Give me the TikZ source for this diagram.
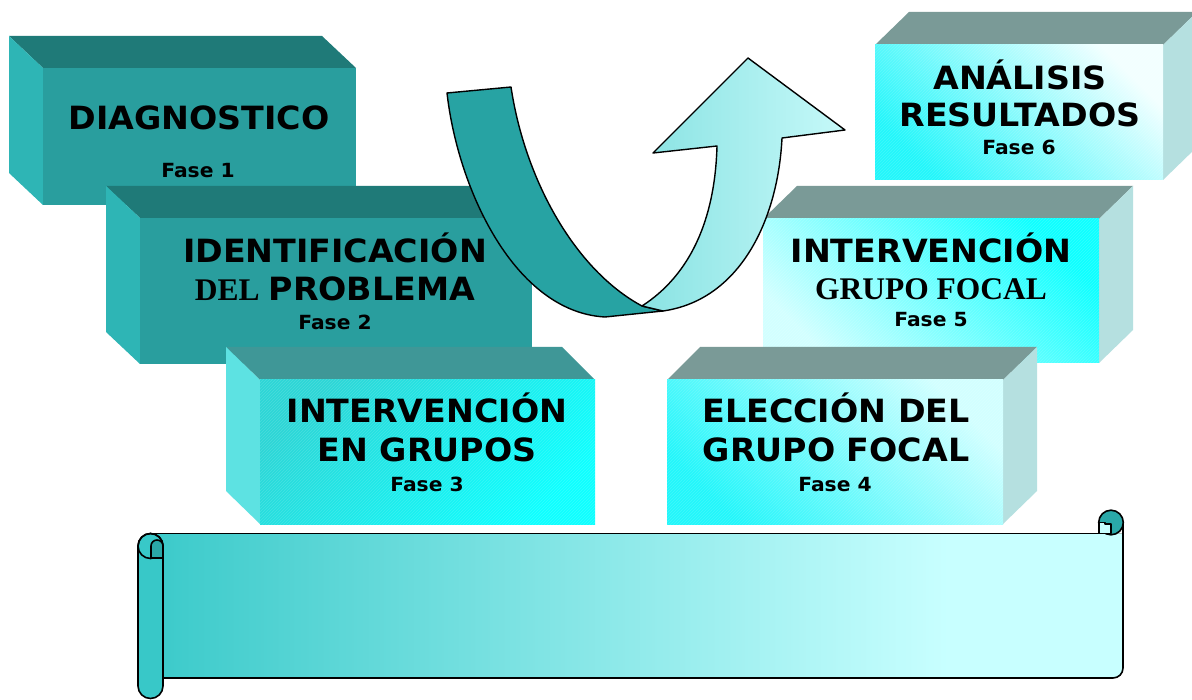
\documentclass[tikz,border=0pt]{standalone}
\usepackage{fontspec}
\newfontfamily\vb{DejaVu Sans}[FakeStretch=1.04]
\newfontfamily\tb{Liberation Serif}
\usetikzlibrary{patterns}
\definecolor{dkF}{HTML}{299E9E}
\definecolor{dkT}{HTML}{1F7A78}
\definecolor{dkS}{HTML}{2EB5B5}
\definecolor{mdT}{HTML}{3F9797}
\definecolor{mdS}{HTML}{5DE2E2}
\definecolor{gyT}{HTML}{7A9A97}
\definecolor{gyS}{HTML}{B5E0E0}
\definecolor{cyA}{HTML}{2CD6D6}
\definecolor{cyB}{HTML}{0EFFFF}
\definecolor{cyC}{HTML}{22F6FA}
\definecolor{ltA}{HTML}{D2FFFF}
\definecolor{ltW}{HTML}{F2FFFF}
\definecolor{arD}{HTML}{27A3A3}
\definecolor{arL}{HTML}{8AE3E3}
\definecolor{arR}{HTML}{C6F9F9}
\definecolor{scA}{HTML}{3BCACA}
\definecolor{scB}{HTML}{C8FFFF}
\definecolor{rollc}{HTML}{38C8C8}
\definecolor{curlc}{HTML}{2AA8A8}
\pgfdeclarehorizontalshading{scrollsh}{100bp}{color(0bp)=(scA); color(25bp)=(scA); color(66bp)=(scB); color(100bp)=(scB)}
\tikzset{
  ttl/.style={font=\vb\bfseries\fontsize{32}{36}\selectfont, anchor=base, inner sep=0pt},
  fase/.style={font=\vb\bfseries\fontsize{19.5}{22}\selectfont, anchor=base, inner sep=0pt},
  ser/.style={font=\tb\bfseries\fontsize{31.5}{36}\selectfont, anchor=base, inner sep=0pt},
  hatch/.style={pattern=north east lines, pattern color=white, opacity=0.15},
  outl/.style={draw=black, line width=1.6pt, line join=round}
}
\begin{document}
\begin{tikzpicture}[x=1pt,y=-1pt]
\useasboundingbox (0,0) rectangle (1192,700);
\clip (0,0) rectangle (1192,700);
\fill[white] (0,0) rectangle (1192,700);

% Box 1
\fill[dkT] (43,68) -- (356,68) -- (322,36) -- (9,36) -- cycle;
\fill[dkS] (43,68) -- (9,36) -- (9,173) -- (43,205) -- cycle;
\fill[dkF] (43,68) rectangle (356,205);
\node[ttl] (t1) at (199,130) {DIAGNOSTICO};
\node[fase] (f1) at (198,178) {Fase 1};

% Box 2
\fill[dkT] (140,218) -- (532,218) -- (498,186) -- (106,186) -- cycle;
\fill[dkS] (140,218) -- (106,186) -- (106,332) -- (140,364) -- cycle;
\fill[dkF] (140,218) rectangle (532,364);
\node[ttl] (t2) at (335,263) {IDENTIFICACIÓN};
\node[anchor=base, inner sep=0pt] (t2b) at (335,301) {{\tb\bfseries\fontsize{31.5}{36}\selectfont DEL}\hspace{9pt}{\vb\bfseries\fontsize{32}{36}\selectfont PROBLEMA}};
\node[fase] (f2) at (335,330) {Fase 2};

% Box 3
\fill[mdT] (260,380) -- (595,380) -- (562,347) -- (226,347) -- cycle;
\fill[mdS] (260,380) -- (226,347) -- (226,491) -- (260,524) -- cycle;
\fill[top color=cyA, bottom color=cyB, shading angle=45] (260,380) rectangle (595,524);
\fill[hatch] (260,380) rectangle (595,524);
\node[ttl] (t3) at (427,423) {INTERVENCIÓN};
\node[ttl] (t3b) at (427,461.5) {EN GRUPOS};
\node[fase] (f3) at (427,491.5) {Fase 3};

% Box 6
\fill[gyT] (875,45) -- (1163,45) -- (1197,12) -- (909,12) -- cycle;
\fill[gyS] (1163,45) -- (1197,12) -- (1197,147) -- (1163,180) -- cycle;
\fill[top color=ltW, bottom color=cyC, shading angle=-45] (875,45) rectangle (1163,180);
\fill[hatch] (875,45) rectangle (1163,180);
\node[ttl] (t6) at (1020,90) {ANÁLISIS};
\node[ttl] (t6b) at (1020,126.7) {RESULTADOS};
\node[fase] (f6) at (1019,155) {Fase 6};

% Box 5
\fill[gyT] (763,219) -- (1099,219) -- (1133,186) -- (797,186) -- cycle;
\fill[gyS] (1099,219) -- (1133,186) -- (1133,330) -- (1099,363) -- cycle;
\fill[top color=cyB, bottom color=ltA, shading angle=-45] (763,219) rectangle (1099,363);
\fill[hatch] (763,219) rectangle (1099,363);
\node[ttl] (t5) at (931,262.7) {INTERVENCIÓN};
\node[ser] (t5b) at (931,299.3) {GRUPO FOCAL};
\node[fase] (f5) at (931,326.7) {Fase 5};

% Box 4
\fill[gyT] (667,380) -- (1003,380) -- (1037,347) -- (700,347) -- cycle;
\fill[gyS] (1003,380) -- (1037,347) -- (1037,491) -- (1003,524) -- cycle;
\fill[top color=ltA, bottom color=cyC, shading angle=-45] (667,380) rectangle (1003,524);
\fill[hatch] (667,380) rectangle (1003,524);
\node[ttl] (t4) at (836,423) {ELECCIÓN DEL};
\node[ttl] (t4b) at (836,461.5) {GRUPO FOCAL};
\node[fase] (f4) at (835,491.5) {Fase 4};

% Curved arrow
\draw[outl, line width=1.4pt, fill=arD] (447,93) -- (511,87) .. controls (525,180) and (575,270) .. (642,306)
  -- (663,311) -- (605,317) .. controls (515,312) and (458,190) .. (447,93) -- cycle;
\draw[outl, line width=1.4pt, left color=arL, right color=arR] (642,306) .. controls (690,275) and (715,220) .. (717,146)
  -- (653,153) -- (748,58) -- (845,130) -- (782,138)
  .. controls (778,220) and (740,300) .. (663,311) -- cycle;

% Scroll
\fill[shading=scrollsh] (150.5,533.5) -- (1123,533.5) -- (1123,668) arc[start angle=0,end angle=90,radius=10] -- (163,678) -- (163,546) -- cycle;
\draw[outl] (150.5,533.5) -- (1099,533.5);
\draw[outl] (1123,522.5) -- (1123,668) arc[start angle=0,end angle=90,radius=10] -- (163,678);
% right curl
\draw[outl, fill=curlc] (1111,522.5) circle[radius=12.3];
\draw[outl, fill=scB] (1099,522.5) -- (1099,533.5) -- (1111,533.5) -- (1111,524) -- (1105,524) -- (1105,522.5) -- cycle;
% left roll
\draw[outl, fill=rollc] (138,546) -- (138,686) arc[start angle=180,end angle=0,radius=12.5]
  -- (163,546) arc[start angle=0,end angle=-180,radius=12.5] -- cycle;
\draw[outl] (150.5,546) circle[radius=12.5];
\draw[outl, fill=curlc] (151,558) -- (151,546) arc[start angle=180,end angle=360,radius=6] -- (163,558) -- cycle;
\end{tikzpicture}
\end{document}
